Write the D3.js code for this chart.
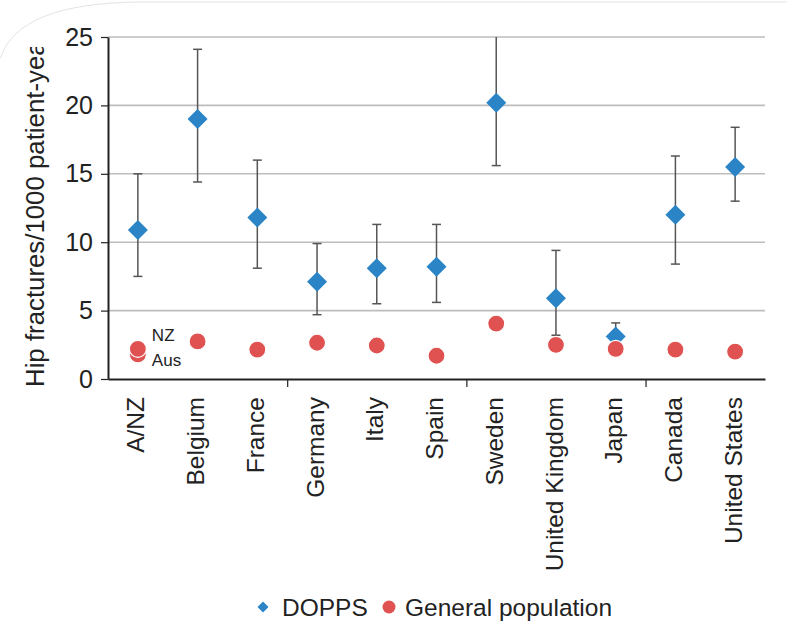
<!DOCTYPE html>
<html>
<head>
<meta charset="utf-8">
<script src="https://cdn.jsdelivr.net/npm/d3@7"></script>
<style>
  html, body { margin: 0; padding: 0; background: #fff; }
  svg { display: block; font-family: "Liberation Sans", Arial, Helvetica, sans-serif; }
</style>
</head>
<body>
<svg id="chart" width="787" height="623"></svg>
<script>
// Hip fracture rates per 1000 patient-years, by country
const countries = ["A/NZ", "Belgium", "France", "Germany", "Italy", "Spain", "Sweden",
                   "United Kingdom", "Japan", "Canada", "United States"];
const doppsRate  = [10.9, 19.0, 11.8, 7.1, 8.1, 8.2, 20.2, 5.9, 3.1, 12.0, 15.5];
const doppsLower = [7.5, 14.4, 8.1, 4.7, 5.5, 5.6, 15.6, 3.2, 2.3, 8.4, 13.0];
const doppsUpper = [15.0, 24.1, 16.0, 9.9, 11.3, 11.3, 25.6, 9.4, 4.1, 16.3, 18.4];
// General population rates (A/NZ shows Australia and New Zealand separately)
const generalRate = [2.2, 2.75, 2.15, 2.65, 2.45, 1.7, 4.05, 2.5, 2.2, 2.15, 2.0];
const ausRate = 1.8;
const yTicks = [0, 5, 10, 15, 20, 25];
const legendLabels = ["DOPPS", "General population"];

const blue = "#2a84c6";
const red = "#e05151";
const ink = "#222";

const svg = d3.select("#chart");
const margin = { left: 108, right: 22, top: 37, bottom: 244 };
const W = 787, H = 623;
const x0 = margin.left, x1 = W - margin.right;
const yTop = margin.top, yBot = H - margin.bottom;

const x = d3.scaleBand().domain(countries).range([x0, x1]);
const xIdx = d3.scaleLinear().domain([0, countries.length]).range([x0, x1]);
const y = d3.scaleLinear().domain([0, 25]).range([yBot, yTop]);

// light rounded frame along the top edge
svg.append("path")
  .attr("d", "M0.5,58 Q18,3 140,2 L787,2")
  .attr("fill", "none").attr("stroke", "#e3e3e3").attr("stroke-width", 1);

// horizontal gridlines
svg.append("g").selectAll("line")
  .data(yTicks.filter(t => t > 0))
  .join("line")
  .attr("x1", x0).attr("x2", x1)
  .attr("y1", d => y(d)).attr("y2", d => y(d))
  .attr("stroke", "#bdbdbd").attr("stroke-width", 1.6);

// y axis
const yAxis = svg.append("g")
  .attr("transform", `translate(${x0},0)`)
  .call(d3.axisLeft(y).tickValues(yTicks).tickSize(7).tickPadding(8).tickSizeOuter(0));
yAxis.select(".domain").attr("stroke", ink).attr("stroke-width", 2);
yAxis.selectAll(".tick line").attr("stroke", ink).attr("stroke-width", 1.2);
yAxis.selectAll(".tick text")
  .attr("font-size", 25).attr("fill", ink)
  .attr("font-family", "Liberation Sans, Arial, sans-serif");

// x axis line with group ticks
const xAxis = svg.append("g")
  .attr("transform", `translate(0,${yBot})`)
  .call(d3.axisBottom(xIdx).tickValues([3, 6, 9]).tickSize(8).tickSizeOuter(0).tickFormat(""));
xAxis.select(".domain").attr("stroke", ink).attr("stroke-width", 2);
xAxis.selectAll(".tick line").attr("stroke", ink).attr("stroke-width", 1.2);

// category labels
svg.append("g").selectAll("text")
  .data(countries)
  .join("text")
  .attr("transform", d => `translate(${x(d) + x.bandwidth() / 2 - 2},${yBot + 18}) rotate(-90)`)
  .attr("text-anchor", "end")
  .attr("dy", "0.35em")
  .attr("font-size", 24.5)
  .attr("fill", ink)
  .text(d => d);

// y axis title (top corner of the frame cuts it off)
svg.append("clipPath").attr("id", "titleClip")
  .append("rect").attr("x", 0).attr("y", 47).attr("width", 80).attr("height", 400);
svg.append("g")
  .attr("clip-path", "url(#titleClip)")
  .append("text")
  .attr("transform", `translate(44,387) rotate(-90)`)
  .attr("text-anchor", "start")
  .attr("font-size", 25.8)
  .attr("fill", ink)
  .text("Hip fractures/1000 patient-years");

// plot clip so whiskers stop at the top of the scale
svg.append("clipPath").attr("id", "plotClip")
  .append("rect").attr("x", x0).attr("y", yTop).attr("width", x1 - x0).attr("height", yBot - yTop);

const plot = svg.append("g").attr("clip-path", "url(#plotClip)");
const cx = i => x(countries[i]) + x.bandwidth() / 2;

// error bars
const eb = plot.append("g").attr("stroke", "#555").attr("stroke-width", 1.5);
countries.forEach((c, i) => {
  eb.append("line").attr("x1", cx(i)).attr("x2", cx(i))
    .attr("y1", y(doppsLower[i])).attr("y2", y(doppsUpper[i]));
  [doppsLower[i], doppsUpper[i]].forEach(v => {
    eb.append("line").attr("x1", cx(i) - 4.5).attr("x2", cx(i) + 4.5)
      .attr("y1", y(v)).attr("y2", y(v));
  });
});

// DOPPS diamonds
const diamond = d3.symbol().type(d3.symbolSquare).size(200);
plot.append("g").selectAll("path")
  .data(doppsRate)
  .join("path")
  .attr("d", diamond)
  .attr("transform", (d, i) => `translate(${cx(i)},${y(d)}) rotate(45)`)
  .attr("fill", blue);

// general population circles (Australia drawn beneath New Zealand)
const gp = plot.append("g");
gp.append("circle")
  .attr("cx", cx(0)).attr("cy", y(ausRate)).attr("r", 8.5)
  .attr("fill", red).attr("stroke", "#fff").attr("stroke-width", 1.2);
gp.selectAll("circle.g")
  .data(generalRate)
  .join("circle")
  .attr("class", "g")
  .attr("cx", (d, i) => cx(i)).attr("cy", d => y(d)).attr("r", 8.5)
  .attr("fill", red).attr("stroke", "#fff").attr("stroke-width", 1.2);

// NZ / Aus annotations
svg.append("text").attr("x", cx(0) + 14).attr("y", y(generalRate[0]) - 8)
  .attr("font-size", 17).attr("fill", ink).text("NZ");
svg.append("text").attr("x", cx(0) + 14).attr("y", y(ausRate) + 12)
  .attr("font-size", 17).attr("fill", ink).text("Aus");

// legend
const lg = svg.append("g").attr("transform", "translate(0,607)");
lg.append("path").attr("d", d3.symbol().type(d3.symbolSquare).size(60))
  .attr("transform", "translate(263,0) rotate(45)").attr("fill", blue);
lg.append("text").attr("x", 282).attr("y", 0).attr("dy", "0.35em")
  .attr("font-size", 24.5).attr("fill", ink).text(legendLabels[0]);
lg.append("circle").attr("cx", 389).attr("cy", 0).attr("r", 6.5).attr("fill", red);
lg.append("text").attr("x", 405).attr("y", 0).attr("dy", "0.35em")
  .attr("font-size", 24.5).attr("fill", ink).text(legendLabels[1]);
</script>
</body>
</html>
